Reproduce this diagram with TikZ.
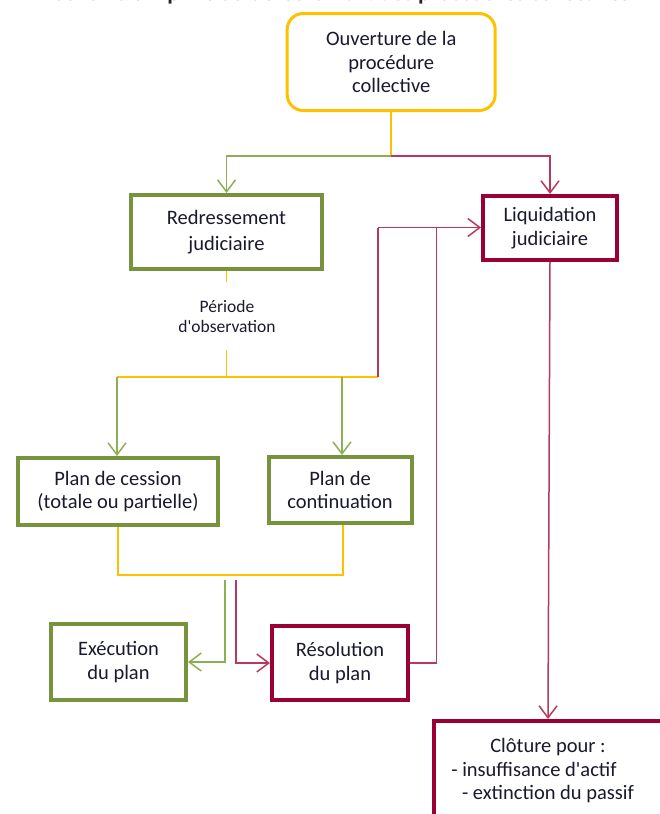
\documentclass[tikz,border=0pt]{standalone}
\usepackage{fontspec}
\setmainfont{Carlito}
\usetikzlibrary{arrows.meta}
\newcommand\apos{\textquotesingle}
\definecolor{yel}{HTML}{FFC000}
\definecolor{grn}{HTML}{77933C}
\definecolor{grnl}{HTML}{8EAE55}
\definecolor{dred}{HTML}{9B0034}
\definecolor{redl}{HTML}{B63A60}
\definecolor{txt}{HTML}{1A1A2E}
\tikzset{
  box/.style={draw, line width=4pt, fill=white, text=txt, align=center, inner sep=0pt,
    font=\fontsize{20.5}{23.5}\selectfont},
  gbox/.style={box, draw=grn},
  rbox/.style={box, draw=dred},
  ybox/.style={box, draw=yel, line width=3pt, rounded corners=16pt},
  yline/.style={draw=yel, line width=1.5pt},
  gline/.style={draw=grnl, line width=1.5pt},
  rline/.style={draw=redl, line width=1.5pt},
  arr/.style={-{Straight Barb[length=12pt,width=18pt,line width=1.5pt]}},
}
\begin{document}
\begin{tikzpicture}[x=1pt,y=-1pt]
\useasboundingbox (0,0) rectangle (659,814);
% title (cut off at top, as in the reference)
\node[anchor=base, font=\fontsize{23}{26}\selectfont\bfseries, text=black!85] (title) at (342,0.5)
  {Schéma simplifié du déroulement des procédures collectives};
% boxes
\node[ybox, minimum width=208pt, minimum height=97pt] (ouv) at (391.2,62) {Ouverture de la\\procédure\\collective};
\node[gbox, minimum width=191pt, minimum height=74pt, font=\fontsize{20.5}{26}\selectfont] (red) at (226.5,232) {Redressement\\judiciaire};
\node[rbox, minimum width=134pt, minimum height=64pt] (liq) at (550,228) {Liquidation\\judiciaire};
\node[text=txt, align=center, font=\fontsize{17.5}{20}\selectfont] (per) at (227,316) {Période\\d\apos observation};
\node[gbox, minimum width=200pt, minimum height=67pt] (ces) at (118,491.5) {Plan de cession\\(totale ou partielle)};
\node[gbox, minimum width=143pt, minimum height=66pt] (con) at (340,490) {Plan de\\continuation};
\node[gbox, minimum width=135pt, minimum height=76pt] (exe) at (118.5,662) {Exécution\\du plan};
\node[rbox, minimum width=136pt, minimum height=74pt] (res) at (340,663) {Résolution\\du plan};
\node[rbox, minimum width=228pt, minimum height=100pt] (clo) at (548,771)
  {Clôture pour :\\\mbox{- insuffisance d\apos actif\hspace{28pt}}\\- extinction du passif};
% coordinates
\coordinate (j1) at (391.2,156);
\coordinate (p1) at (226.5,281.5);
\coordinate (p2) at (226.5,350);
\coordinate (h1) at (117,377);
\coordinate (h2) at (226.5,377);
\coordinate (h3) at (342,377);
\coordinate (h4) at (378,377);
\coordinate (lq) at (378,227.5);
\coordinate (b1) at (118,575);
\coordinate (b2) at (343,575);
\coordinate (e1) at (225,580);
\coordinate (r1) at (236,580);
\coordinate (rv) at (436.5,227.5);
% connectors
\draw[yline] (ouv.south) -- (j1);
\draw[gline, arr] (j1) -| (red.north);
\draw[rline, arr] (j1) -| (liq.north);
\draw[yline] (red.south) -- (p1);
\draw[yline] (p2) -- (h2);
\draw[yline] (h1) -- (h4);
\draw[rline] (h4) -- (lq);
\draw[rline, arr] (lq) -- (lq -| liq.west);
\draw[gline, arr] (h1) -- (h1 |- ces.north);
\draw[gline, arr] (h3) -- (h3 |- con.north);
\draw[yline] (ces.south) |- (b1) -- (b2) -- (b2 |- con.south);
\draw[gline, arr] (e1) |- (exe.east);
\draw[rline, arr] (r1) |- (res.west);
\draw[rline] (res.east) -| (rv);
\draw[rline, arr] (liq.south) -- (clo.north);
\end{tikzpicture}
\end{document}
